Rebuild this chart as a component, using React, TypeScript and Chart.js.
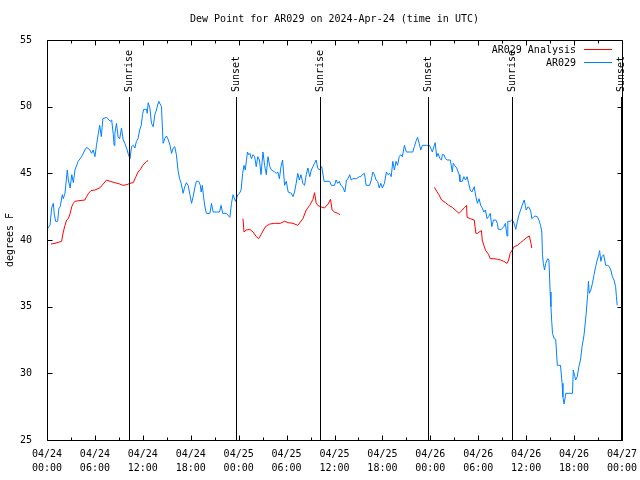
import { useEffect, useRef } from "react";
import { Chart, registerables } from "chart.js";

Chart.register(...registerables);

const FONT = '"DejaVu Sans Mono", "Liberation Mono", monospace';

const chartTitle = "Dew Point for AR029 on 2024-Apr-24 (time in UTC)";
const yAxisTitle = "degrees F";
const seriesNames = ["AR029 Analysis", "AR029"];
const seriesColors = ["#ff0000", "#0080ff"];

const xTickDates = ["04/24", "04/24", "04/24", "04/24", "04/25", "04/25", "04/25", "04/25", "04/26", "04/26", "04/26", "04/26", "04/27"];
const xTickTimes = ["00:00", "06:00", "12:00", "18:00", "00:00", "06:00", "12:00", "18:00", "00:00", "06:00", "12:00", "18:00", "00:00"];

const sunEventHours = [10.27, 23.67, 34.18, 47.71, 58.23, 71.88];
const sunEventLabels = ["Sunrise", "Sunset", "Sunrise", "Sunset", "Sunrise", "Sunset"];

// hours since 04/24 00:00 UTC
const obsHours = [
  0.0, 0.2, 0.38, 0.58, 0.79, 0.92, 1.08, 1.33, 1.5, 1.65, 1.92, 2.04, 2.25, 2.54, 2.67, 2.9, 3.1, 3.3, 3.5, 3.9,
  4.33, 4.75, 4.96, 5.38, 5.58, 5.79, 6.0, 6.2, 6.4, 6.6, 6.8, 7.0, 7.46, 7.9, 8.1, 8.3, 8.4, 8.5, 8.7, 8.9,
  9.1, 9.33, 9.54, 9.75, 9.96, 10.2, 10.4, 10.58, 10.8, 11.0, 11.2, 11.4, 11.6, 11.8, 11.96, 12.1, 12.46, 12.55, 12.67, 12.88,
  13.08, 13.3, 13.5, 13.7, 13.9, 14.0, 14.33, 14.54, 14.75, 14.96, 15.2, 15.4, 15.6, 15.8, 16.0, 16.2, 16.4, 16.6, 16.8, 17.04,
  17.25, 17.46, 17.67, 17.9, 18.1, 18.3, 18.5, 18.7, 19.0, 19.2, 19.3, 19.45, 19.6, 19.8, 19.96, 20.4, 20.6, 20.8, 21.2, 21.6,
  21.8, 22.0, 22.46, 22.9, 23.1, 23.3, 23.6, 23.9, 24.1, 24.3, 24.5, 24.67, 24.83, 25.1, 25.25, 25.4, 25.6, 25.8, 26.0, 26.2,
  26.4, 26.6, 26.8, 27.04, 27.25, 27.46, 27.67, 27.9, 28.1, 28.5, 28.7, 28.9, 29.1, 29.3, 29.5, 29.75, 29.96, 30.2, 30.6, 30.8,
  31.0, 31.2, 31.4, 31.6, 31.8, 32.04, 32.25, 32.46, 32.67, 32.9, 33.1, 33.3, 33.5, 33.7, 33.9, 34.1, 34.4, 34.7, 35.2, 35.4,
  35.6, 36.0, 36.2, 36.4, 36.6, 36.8, 37.0, 37.3, 37.5, 37.7, 37.9, 38.1, 38.3, 38.75, 39.1, 39.3, 39.5, 39.75, 39.96, 40.4,
  40.6, 40.8, 41.0, 41.2, 41.4, 41.6, 41.8, 42.0, 42.25, 42.5, 42.7, 42.9, 43.1, 43.3, 43.5, 43.7, 43.9, 44.1, 44.3, 44.5,
  44.75, 45.0, 45.4, 45.8, 46.0, 46.2, 46.4, 46.6, 46.8, 47.0, 47.5, 47.9, 48.25, 48.4, 48.6, 48.8, 48.96, 49.2, 49.4, 49.5,
  49.7, 49.9, 50.1, 50.5, 50.75, 50.87, 51.04, 51.3, 51.6, 51.7, 52.0, 52.2, 52.4, 52.6, 52.8, 53.0, 53.2, 53.5, 53.7, 53.9,
  54.1, 54.3, 54.5, 54.7, 54.9, 55.1, 55.3, 55.5, 55.7, 55.9, 56.2, 56.4, 56.5, 56.9, 57.2, 57.4, 57.6, 57.7, 58.0, 58.2,
  58.4, 58.7, 58.9, 59.1, 59.3, 59.5, 59.75, 59.9, 60.0, 60.25, 60.4, 60.6, 60.7, 60.9, 61.1, 61.4, 61.6, 61.8, 61.96, 62.04,
  62.15, 62.3, 62.45, 62.7, 62.85, 63.0, 63.1, 63.2, 63.3, 63.5, 63.7, 63.8, 63.9, 64.1, 64.3, 64.5, 64.6, 64.75, 64.96, 65.4,
  65.8, 65.9, 66.1, 66.2, 66.4, 66.6, 66.8, 67.0, 67.25, 67.5, 67.7, 67.8, 67.9, 68.1, 68.3, 68.5, 68.7, 68.9, 69.1, 69.2,
  69.35, 69.5, 69.7, 69.96, 70.2, 70.4, 70.6, 70.8, 71.0, 71.2, 71.3, 71.4,
];
const obsDew = [
  40.75, 41.0, 41.1, 42.4, 42.75, 41.9, 41.4, 41.4, 42.4, 42.5, 43.4, 43.1, 43.5, 45.25, 44.5, 43.9, 44.9, 44.3, 45.25, 45.9,
  46.25, 46.75, 46.95, 46.75, 46.5, 46.75, 46.25, 47.1, 47.9, 48.6, 47.75, 49.1, 49.2, 48.9, 49.0, 47.9, 47.1, 48.0, 48.75, 47.75,
  47.6, 48.4, 47.5, 47.25, 46.9, 46.4, 46.1, 47.0, 47.1, 46.9, 47.4, 47.6, 48.25, 48.6, 49.4, 49.8, 49.8, 49.5, 50.3, 49.9,
  48.75, 48.5, 49.4, 49.75, 50.25, 50.4, 50.0, 47.25, 47.6, 47.8, 47.5, 47.1, 46.5, 46.9, 47.0, 46.4, 45.25, 44.6, 44.25, 43.5,
  44.0, 44.3, 44.1, 43.4, 42.75, 43.25, 43.9, 44.4, 44.4, 44.1, 43.6, 44.1, 43.25, 42.4, 42.0, 42.0, 42.75, 42.1, 42.1, 42.1,
  42.6, 42.0, 42.0, 41.7, 42.75, 43.4, 42.9, 43.4, 43.5, 43.75, 45.0, 45.6, 45.25, 46.6, 46.4, 46.5, 46.1, 46.4, 46.25, 45.5,
  46.25, 46.0, 44.9, 46.6, 45.6, 44.9, 46.25, 45.5, 45.25, 45.1, 45.0, 45.1, 44.6, 45.5, 46.0, 44.1, 44.4, 43.6, 43.5, 43.25,
  43.6, 44.25, 45.0, 44.5, 44.9, 44.25, 44.1, 44.9, 45.4, 44.75, 45.25, 45.5, 45.75, 46.0, 45.4, 45.25, 45.5, 44.4, 44.4, 44.4,
  44.1, 44.1, 44.5, 44.25, 44.4, 44.1, 44.0, 43.6, 44.5, 44.6, 44.9, 44.5, 44.6, 44.6, 44.75, 44.75, 44.9, 45.0, 44.1, 44.1,
  44.5, 45.1, 44.9, 44.5, 44.4, 43.9, 44.25, 43.9, 44.25, 45.1, 44.9, 45.0, 44.75, 45.9, 45.25, 45.9, 45.6, 46.25, 46.4, 46.25,
  47.1, 46.6, 46.6, 46.6, 47.0, 47.4, 47.7, 47.25, 46.75, 47.1, 47.1, 47.1, 46.6, 46.9, 47.3, 46.25, 46.5, 46.1, 46.0, 46.4,
  46.4, 46.1, 46.0, 46.0, 45.1, 45.75, 45.6, 45.4, 44.9, 44.4, 44.4, 44.75, 44.5, 44.75, 44.25, 43.75, 43.6, 44.0, 43.25, 42.75,
  43.1, 42.6, 42.4, 42.1, 42.25, 41.6, 41.75, 42.0, 41.0, 41.5, 41.5, 41.25, 40.8, 40.8, 41.0, 41.25, 40.3, 41.4, 41.4, 41.5,
  41.4, 40.8, 41.4, 41.9, 42.25, 42.6, 43.0, 42.6, 42.25, 42.5, 42.4, 42.1, 41.6, 41.7, 41.8, 41.75, 41.5, 41.1, 40.6, 38.9,
  38.25, 37.75, 38.25, 38.6, 38.5, 36.1, 35.0, 33.9, 33.0, 32.6, 32.55, 31.6, 30.6, 30.6, 30.6, 29.25, 28.25, 27.7, 28.5, 28.5,
  28.5, 30.25, 29.75, 29.5, 29.75, 30.5, 31.0, 32.0, 32.9, 34.4, 35.9, 36.9, 36.0, 36.25, 36.75, 37.4, 38.0, 38.5, 38.9, 39.2,
  38.4, 38.75, 38.9, 38.1, 38.1, 38.0, 37.75, 37.25, 37.0, 36.5, 35.75, 35.1,
];

const anaHours = [
  0.5, 1.0, 1.83, 2.04, 2.25, 2.46, 2.67, 2.9, 3.1, 3.3, 3.5, 4.0, 4.75, 4.96, 5.2, 5.5, 6.0, 6.6, 7.04, 7.46,
  7.9, 8.5, 9.1, 9.5, 10.0, 10.4, 10.8, 11.1, 11.4, 11.7, 12.0, 12.46, 12.67,
  18.0,
  24.54, 24.67, 24.96, 25.4, 25.8, 26.2, 26.5, 26.8, 27.25, 27.46, 27.9, 28.5, 29.2, 29.75, 30.2, 30.8, 31.4, 32.04, 32.46, 32.9,
  33.3, 33.5, 33.7, 33.9, 34.25, 34.75, 35.2, 35.5, 35.7, 36.0, 36.4, 36.7,
  42.0,
  48.5, 48.7, 49.07, 49.4, 49.9, 50.3, 50.75, 51.2, 51.6, 52.0, 52.3, 52.54, 52.6, 53.2, 53.5, 53.7, 53.9, 54.1, 54.4, 54.5,
  54.7, 54.9, 55.3, 55.5, 55.96, 56.4, 56.8, 57.2, 57.6, 57.8, 58.0, 58.25, 58.5, 58.9, 59.3, 59.7, 60.1, 60.4, 60.6, 60.7,
];
const anaDew = [
  39.7, 39.75, 39.9, 40.6, 41.1, 41.5, 41.6, 42.0, 42.5, 42.75, 42.9, 42.95, 43.0, 43.25, 43.5, 43.7, 43.75, 43.9, 44.2, 44.5,
  44.4, 44.3, 44.2, 44.1, 44.15, 44.25, 44.3, 44.7, 45.1, 45.3, 45.6, 45.9, 45.95,
  null,
  41.6, 40.6, 40.75, 40.8, 40.6, 40.25, 40.1, 40.4, 40.9, 41.05, 41.2, 41.25, 41.25, 41.4, 41.3, 41.25, 41.1, 41.6, 42.25, 42.6,
  43.05, 43.55, 42.8, 42.6, 42.5, 42.4, 42.7, 43.05, 42.25, 42.1, 42.0, 41.9,
  null,
  43.95, 43.75, 43.4, 43.0, 42.8, 42.6, 42.45, 42.2, 42.0, 42.25, 42.45, 42.6, 41.7, 41.55, 41.5, 40.5, 40.5, 40.6, 40.7, 40.0,
  39.6, 39.25, 38.9, 38.6, 38.6, 38.55, 38.5, 38.4, 38.25, 38.5, 39.0, 39.25, 39.5, 39.6, 39.8, 40.0, 40.2, 40.3, 39.75, 39.4,
];

const overlayPlugin = {
  id: "gnuOverlay",
  afterDraw(chart: any) {
    const { ctx, chartArea: a, scales } = chart;
    const xs = scales.x;
    const ys = scales.y;
    const L = Math.round(a.left) + 0.5;
    const R = Math.round(a.right) + 0.5;
    const T = Math.round(a.top) + 0.5;
    const B = Math.round(a.bottom) + 0.5;
    ctx.save();
    ctx.strokeStyle = "#000";
    ctx.fillStyle = "#000";
    ctx.lineWidth = 1;

    // frame
    ctx.beginPath();
    ctx.rect(L, T, R - L, B - T);
    ctx.stroke();

    // x ticks (inward, mirrored on top)
    ctx.beginPath();
    for (let h = 0; h <= 72; h += 3) {
      const px = Math.round(xs.getPixelForValue(h)) + 0.5;
      const len = h % 6 === 0 ? 5 : 3;
      ctx.moveTo(px, B);
      ctx.lineTo(px, B - len);
      ctx.moveTo(px, T);
      ctx.lineTo(px, T + len);
    }
    // y ticks (inward, mirrored on right)
    for (let v = 25; v <= 55; v += 5) {
      const py = Math.round(ys.getPixelForValue(v)) + 0.5;
      ctx.moveTo(L, py);
      ctx.lineTo(L + 5, py);
      ctx.moveTo(R, py);
      ctx.lineTo(R - 5, py);
    }
    ctx.stroke();

    // sunrise / sunset markers
    ctx.font = "10px " + FONT;
    sunEventHours.forEach((h, i) => {
      const px = Math.round(xs.getPixelForValue(h)) + 0.5;
      ctx.beginPath();
      ctx.moveTo(px, a.top + 57);
      ctx.lineTo(px, B);
      ctx.stroke();
      ctx.save();
      ctx.translate(px, a.top + 52);
      ctx.rotate(-Math.PI / 2);
      ctx.textAlign = "left";
      ctx.textBaseline = "middle";
      ctx.fillText(sunEventLabels[i], 0, 0);
      ctx.restore();
    });

    // title
    ctx.textAlign = "center";
    ctx.textBaseline = "middle";
    ctx.fillText(chartTitle, (a.left + a.right) / 2, 19);

    // y axis title
    ctx.save();
    ctx.translate(10, (a.top + a.bottom) / 2);
    ctx.rotate(-Math.PI / 2);
    ctx.fillText(yAxisTitle, 0, 0);
    ctx.restore();

    // legend
    ctx.textAlign = "right";
    seriesNames.forEach((name, i) => {
      const y = 50 + i * 13;
      ctx.fillStyle = "#000";
      ctx.fillText(name, 576, y);
      ctx.strokeStyle = seriesColors[i];
      ctx.beginPath();
      ctx.moveTo(584, y - 0.5);
      ctx.lineTo(612, y - 0.5);
      ctx.stroke();
    });

    ctx.restore();
  },
};

export default function App() {
  const canvasRef = useRef<HTMLCanvasElement | null>(null);

  useEffect(() => {
    const canvas = canvasRef.current;
    if (!canvas) return;
    const chart = new Chart(canvas, {
      type: "line",
      data: {
        datasets: [
          {
            label: seriesNames[0],
            data: anaHours.map((h, i) => ({ x: h, y: anaDew[i] })) as any,
            borderColor: seriesColors[0],
            borderWidth: 1,
            pointRadius: 0,
            tension: 0,
            spanGaps: false,
          },
          {
            label: seriesNames[1],
            data: obsHours.map((h, i) => ({ x: h, y: obsDew[i] })) as any,
            borderColor: seriesColors[1],
            borderWidth: 1,
            pointRadius: 0,
            tension: 0,
          },
        ],
      },
      options: {
        animation: false,
        responsive: false,
        maintainAspectRatio: false,
        devicePixelRatio: 1,
        layout: { padding: { left: 0, right: 18, top: 40, bottom: 0 } },
        plugins: {
          legend: { display: false },
          title: { display: false },
          tooltip: { enabled: false },
        },
        scales: {
          x: {
            type: "linear",
            min: 0,
            max: 72,
            grid: { display: false },
            border: { display: false },
            ticks: {
              stepSize: 6,
              autoSkip: false,
              maxRotation: 0,
              color: "#000",
              padding: -1,
              font: { family: FONT, size: 10, lineHeight: 1.4 },
              callback: (v: any) => {
                const i = Math.round(Number(v) / 6);
                return [xTickDates[i], xTickTimes[i]];
              },
            },
            afterFit: (s: any) => {
              s.height = 40;
            },
          },
          y: {
            min: 25,
            max: 55,
            grid: { display: false },
            border: { display: false },
            ticks: {
              stepSize: 5,
              color: "#000",
              padding: 7,
              font: { family: FONT, size: 10 },
            },
            afterFit: (s: any) => {
              s.width = 47;
            },
          },
        },
      },
      plugins: [overlayPlugin],
    });
    return () => chart.destroy();
  }, []);

  return (
    <div style={{ position: "absolute", left: 0, top: 0, width: 640, height: 480, background: "#fff" }}>
      <canvas ref={canvasRef} width={640} height={480} style={{ display: "block", width: 640, height: 480 }} />
    </div>
  );
}
